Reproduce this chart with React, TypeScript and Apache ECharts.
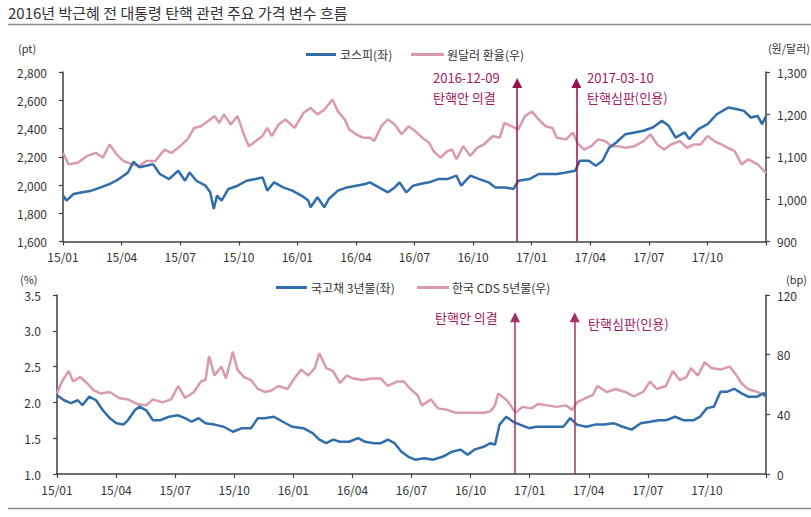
import React, { useEffect, useRef } from "react";
import * as echarts from "echarts";

// x values are months elapsed since 2015-01-01
const xTickLabels = ["15/01", "15/04", "15/07", "15/10", "16/01", "16/04", "16/07", "16/10", "17/01", "17/04", "17/07", "17/10", ""];

const kospiMonths = [0,0.18,0.53,0.99,1.46,1.93,2.39,2.86,3.33,3.61,3.91,4.26,4.61,4.96,5.43,5.90,6.25,6.48,6.83,7.30,7.54,7.72,7.89,8.12,8.47,8.94,9.40,9.87,10.22,10.46,10.81,11.27,11.74,12.21,12.56,12.68,13.03,13.38,13.61,14.08,14.54,15.01,15.48,15.71,16.18,16.64,16.99,17.23,17.58,17.93,18.28,18.75,19.21,19.68,20.15,20.39,20.86,21.32,21.79,22.14,22.61,23.07,23.31,23.89,24.36,24.83,25.29,25.76,26.23,26.46,26.93,27.28,27.63,27.98,28.33,28.80,29.27,29.73,30.20,30.67,31.02,31.37,31.84,32.07,32.54,33.01,33.48,34.07,34.53,34.87,35.22,35.57,35.80,36];
const kospiValues = [1925,1890,1936,1948,1960,1983,2007,2042,2089,2165,2125,2136,2148,2078,2042,2101,2030,2089,2030,1995,1948,1830,1925,1890,1972,1995,2030,2042,2054,1960,2019,1983,1960,1925,1890,1842,1913,1842,1901,1960,1983,1995,2007,2019,1983,1948,1983,2019,1948,1995,2007,2019,2042,2042,2066,1995,2066,2042,2019,1983,1983,1972,2030,2042,2078,2078,2078,2089,2101,2172,2172,2136,2172,2266,2301,2360,2372,2384,2407,2454,2419,2336,2372,2325,2395,2431,2501,2548,2536,2525,2478,2489,2431,2489];

const fxMonths = [0,0.29,0.76,1.23,1.69,2.04,2.39,2.75,3.10,3.56,3.91,4.26,4.73,5.20,5.55,5.90,6.37,6.72,7.07,7.42,7.77,8.00,8.24,8.59,8.94,9.29,9.52,9.87,10.22,10.46,10.69,11.04,11.39,11.86,12.32,12.68,13.03,13.38,13.80,14.08,14.43,14.66,15.01,15.36,15.71,15.94,16.30,16.64,16.99,17.34,17.70,18.05,18.40,18.75,18.98,19.33,19.68,19.92,20.15,20.50,20.85,21.21,21.55,22.02,22.37,22.60,22.96,23.31,23.66,24.01,24.36,24.71,25.06,25.29,25.76,26.11,26.34,26.69,27.05,27.40,27.75,28.10,28.45,28.80,29.27,29.73,30.08,30.43,30.78,31.13,31.60,31.95,32.30,32.65,33.00,33.35,33.71,34.05,34.40,34.75,35.10,35.57,36];
const fxValues = [1109,1082,1086,1102,1109,1098,1129,1105,1090,1082,1078,1090,1090,1117,1109,1121,1141,1168,1172,1184,1196,1180,1200,1176,1196,1149,1125,1137,1149,1168,1149,1176,1188,1168,1204,1215,1200,1211,1235,1207,1188,1164,1153,1145,1145,1137,1172,1188,1176,1153,1172,1160,1145,1133,1113,1098,1113,1117,1094,1125,1102,1121,1129,1149,1145,1180,1172,1164,1196,1207,1188,1172,1168,1145,1141,1157,1133,1117,1125,1141,1137,1125,1125,1121,1125,1137,1153,1129,1117,1129,1137,1121,1129,1129,1149,1137,1129,1121,1113,1082,1094,1082,1062];

const ktbMonths = [0,0.36,0.71,1.06,1.29,1.63,1.98,2.33,2.68,3.02,3.37,3.60,3.95,4.18,4.53,4.87,5.22,5.69,6.15,6.50,6.84,7.19,7.54,8.00,8.46,8.93,9.39,9.85,10.20,10.55,11.01,11.47,11.94,12.51,12.98,13.32,13.67,14.02,14.37,14.83,15.29,15.64,16.10,16.45,16.80,17.14,17.49,17.84,18.19,18.65,19.11,19.57,20.04,20.50,20.85,21.19,21.66,22.01,22.24,22.47,22.81,23.16,23.51,23.97,24.32,24.78,25.25,25.71,26.06,26.40,26.87,27.33,27.79,28.26,28.72,29.18,29.64,30.11,30.57,30.92,31.38,31.84,32.31,32.65,33.00,33.35,33.69,34.04,34.39,34.74,35.09,35.55,35.89,36];
const ktbValues = [2.10,2.03,1.99,2.03,1.96,2.08,2.03,1.89,1.78,1.71,1.69,1.75,1.89,1.94,1.89,1.75,1.75,1.80,1.82,1.78,1.73,1.78,1.71,1.69,1.66,1.59,1.64,1.64,1.78,1.78,1.80,1.73,1.66,1.64,1.57,1.48,1.43,1.48,1.45,1.45,1.50,1.45,1.43,1.43,1.48,1.43,1.31,1.24,1.20,1.22,1.20,1.24,1.31,1.34,1.27,1.34,1.38,1.43,1.41,1.69,1.80,1.73,1.69,1.64,1.66,1.66,1.66,1.66,1.78,1.69,1.66,1.69,1.69,1.71,1.66,1.62,1.71,1.73,1.75,1.75,1.80,1.75,1.75,1.80,1.92,1.94,2.15,2.15,2.19,2.13,2.08,2.08,2.13,2.08];

const cdsMonths = [0,0.25,0.59,0.82,1.17,1.52,1.87,2.21,2.68,3.14,3.60,4.06,4.53,4.87,5.34,5.80,6.15,6.50,6.96,7.31,7.54,7.72,8.00,8.35,8.58,8.93,9.16,9.50,9.85,10.20,10.55,10.89,11.24,11.70,12.05,12.40,12.75,13.09,13.32,13.67,14.02,14.37,14.71,15.06,15.52,15.98,16.45,16.80,17.26,17.61,17.95,18.30,18.53,18.99,19.34,19.81,20.27,20.73,21.19,21.66,22.01,22.24,22.40,22.70,22.93,23.28,23.63,24.09,24.44,24.90,25.36,25.83,26.17,26.40,26.87,27.21,27.44,27.91,28.37,28.84,29.30,29.76,30.11,30.46,30.92,31.27,31.61,31.96,32.19,32.54,32.89,33.23,33.69,34.16,34.51,34.74,35.08,35.55,36];
const cdsValues = [54,62,69,62,65,61,56,54,55,51,50,47,46,50,48,50,59,51,55,62,63,79,66,72,64,82,70,65,63,57,55,56,59,57,64,70,66,71,81,71,69,61,66,64,63,64,64,59,62,62,57,53,46,50,44,43,41,41,41,41,42,46,54,51,48,41,45,44,47,46,45,46,43,48,51,53,59,55,57,55,52,55,62,57,59,69,63,65,71,66,75,71,70,72,66,61,57,55,52];

const eventDates = ["2016-12-09", "2017-03-10"];
const eventDateLabels = ["2016-12-09", "2017-03-10"];
const eventNames = ["탄핵안 의결", "탄핵심판(인용)"];

const BLUE = "#2f6dab";
const PINK = "#d99ab0";
const AXIS = "#404040";
const RED_TEXT = "#a3195b";
const ARROW = "#93124f";
const FONT = '"Noto Sans CJK KR", "Noto Sans", sans-serif';

function toMonths(d: string): number {
  const [y, m, day] = d.split("-").map(Number);
  const dim = new Date(y, m, 0).getDate();
  return (y - 2015) * 12 + (m - 1) + (day - 1) / dim;
}

function zip(xs: number[], ys: number[]) {
  const n = Math.min(xs.length, ys.length);
  const out: number[][] = [];
  for (let i = 0; i < n; i++) out.push([xs[i], ys[i]]);
  return out;
}

const eventMonths = eventDates.map(toMonths);

function xAxis(gridIndex: number) {
  return {
    type: "value",
    gridIndex,
    min: 0,
    max: 36,
    interval: 3,
    axisLine: { show: true, onZero: false, lineStyle: { color: AXIS, width: 1.5 } },
    axisTick: { show: true, length: 4, lineStyle: { color: AXIS, width: 1.2 } },
    splitLine: { show: false },
    axisLabel: {
      margin: 9,
      color: "#333",
      fontSize: 12,
      fontFamily: FONT,
      showMaxLabel: true,
      formatter: (v: number) => xTickLabels[Math.round(v / 3)] ?? "",
    },
  };
}

function yAxis(gridIndex: number, position: string, min: number, max: number, interval: number, fmt: (v: number) => string) {
  return {
    type: "value",
    gridIndex,
    position,
    min,
    max,
    interval,
    axisLine: { show: true, onZero: false, lineStyle: { color: AXIS, width: 1.5 } },
    axisTick: { show: true, length: 4, lineStyle: { color: AXIS, width: 1.2 } },
    splitLine: { show: false },
    axisLabel: {
      margin: position === "left" ? 16 : 11,
      color: "#333",
      fontSize: 12,
      fontFamily: FONT,
      formatter: fmt,
    },
  };
}

function arrowMarks(yFrom: number, yTo: number, color: string) {
  return {
    silent: true,
    symbol: ["none", "triangle"],
    symbolSize: 10,
    label: { show: false },
    emphasis: { disabled: true },
    lineStyle: { color, width: 1.5, type: "solid" },
    itemStyle: { color },
    data: eventMonths.map((m) => [{ coord: [m, yFrom] }, { coord: [m, yTo] }]),
  };
}

function txt(text: string, x: number, y: number, opts: any = {}) {
  return {
    type: "text",
    x,
    y,
    silent: true,
    style: {
      text,
      fill: opts.fill ?? "#333",
      fontSize: opts.fontSize ?? 12,
      fontFamily: FONT,
      align: opts.align ?? "left",
      verticalAlign: "middle",
    },
  };
}

function legendLine(x1: number, x2: number, y: number, color: string) {
  return { type: "line", silent: true, shape: { x1, y1: y, x2, y2: y }, style: { stroke: color, lineWidth: 3 } };
}

export default function App() {
  const ref = useRef<HTMLDivElement>(null);
  useEffect(() => {
    if (!ref.current) return;
    const chart = echarts.init(ref.current, null, { renderer: "svg" });
    const option: any = {
      animation: false,
      backgroundColor: "#ffffff",
      grid: [
        { left: 63, right: 45, top: 72, height: 169.5, containLabel: false },
        { left: 57, right: 45, top: 295, height: 179, containLabel: false },
      ],
      xAxis: [xAxis(0), xAxis(1)],
      yAxis: [
        yAxis(0, "left", 1600, 2800, 200, (v) => v.toLocaleString("en-US")),
        yAxis(0, "right", 900, 1300, 100, (v) => v.toLocaleString("en-US")),
        yAxis(1, "left", 1.0, 3.5, 0.5, (v) => v.toFixed(1)),
        yAxis(1, "right", 0, 120, 40, (v) => String(v)),
      ],
      series: [
        {
          name: "원달러 환율(우)", type: "line", xAxisIndex: 0, yAxisIndex: 1, showSymbol: false, smooth: false,
          lineStyle: { color: PINK, width: 2.5 }, itemStyle: { color: PINK }, data: zip(fxMonths, fxValues), z: 2,
        },
        {
          name: "코스피(좌)", type: "line", xAxisIndex: 0, yAxisIndex: 0, showSymbol: false,
          lineStyle: { color: BLUE, width: 2.5 }, itemStyle: { color: BLUE }, data: zip(kospiMonths, kospiValues), z: 3,
          markLine: arrowMarks(1600, 2722, ARROW),
        },
        {
          name: "한국 CDS 5년물(우)", type: "line", xAxisIndex: 1, yAxisIndex: 3, showSymbol: false,
          lineStyle: { color: PINK, width: 2.5 }, itemStyle: { color: PINK }, data: zip(cdsMonths, cdsValues), z: 2,
        },
        {
          name: "국고채 3년물(좌)", type: "line", xAxisIndex: 1, yAxisIndex: 2, showSymbol: false,
          lineStyle: { color: BLUE, width: 2.5 }, itemStyle: { color: BLUE }, data: zip(ktbMonths, ktbValues), z: 3,
          markLine: arrowMarks(1.0, 3.19, "#a3306b"),
        },
      ],
      graphic: [
        txt("2016년 박근혜 전 대통령 탄핵 관련 주요 가격 변수 흐름", 8, 12, { fontSize: 15, fill: "#333" }),
        { type: "line", silent: true, shape: { x1: 8, y1: 24.5, x2: 811, y2: 24.5 }, style: { stroke: "#8c8c8c", lineWidth: 1.5 } },
        { type: "line", silent: true, shape: { x1: 8, y1: 508.5, x2: 811, y2: 508.5 }, style: { stroke: "#8c8c8c", lineWidth: 1.5 } },
        txt("(pt)", 18, 48, { fontSize: 11 }),
        txt("(원/달러)", 810, 48, { align: "right", fontSize: 11 }),
        txt("(%)", 20, 279, { fontSize: 11 }),
        txt("(bp)", 807, 279, { align: "right", fontSize: 11 }),
        legendLine(306, 336, 54.5, BLUE),
        txt("코스피(좌)", 340, 54),
        legendLine(411, 444, 54.5, PINK),
        txt("원달러 환율(우)", 447, 54),
        legendLine(276, 307, 287.5, BLUE),
        txt("국고채 3년물(좌)", 311, 287),
        legendLine(417, 449, 287.5, PINK),
        txt("한국 CDS 5년물(우)", 452, 287),
        txt(eventDateLabels[0], 433, 77, { fill: RED_TEXT, fontSize: 13 }),
        txt(eventNames[0], 433, 97, { fill: RED_TEXT, fontSize: 13 }),
        txt(eventDateLabels[1], 587, 77, { fill: RED_TEXT, fontSize: 13 }),
        txt(eventNames[1], 587, 97, { fill: RED_TEXT, fontSize: 13 }),
        txt(eventNames[0], 435, 317, { fill: RED_TEXT, fontSize: 13 }),
        txt(eventNames[1], 588, 323, { fill: RED_TEXT, fontSize: 13 }),
      ],
    };
    chart.setOption(option);
    return () => chart.dispose();
  }, []);
  return (
    <div
      ref={ref}
      style={{ position: "fixed", left: 0, top: 0, width: 811, height: 517, background: "#fff" }}
    />
  );
}
